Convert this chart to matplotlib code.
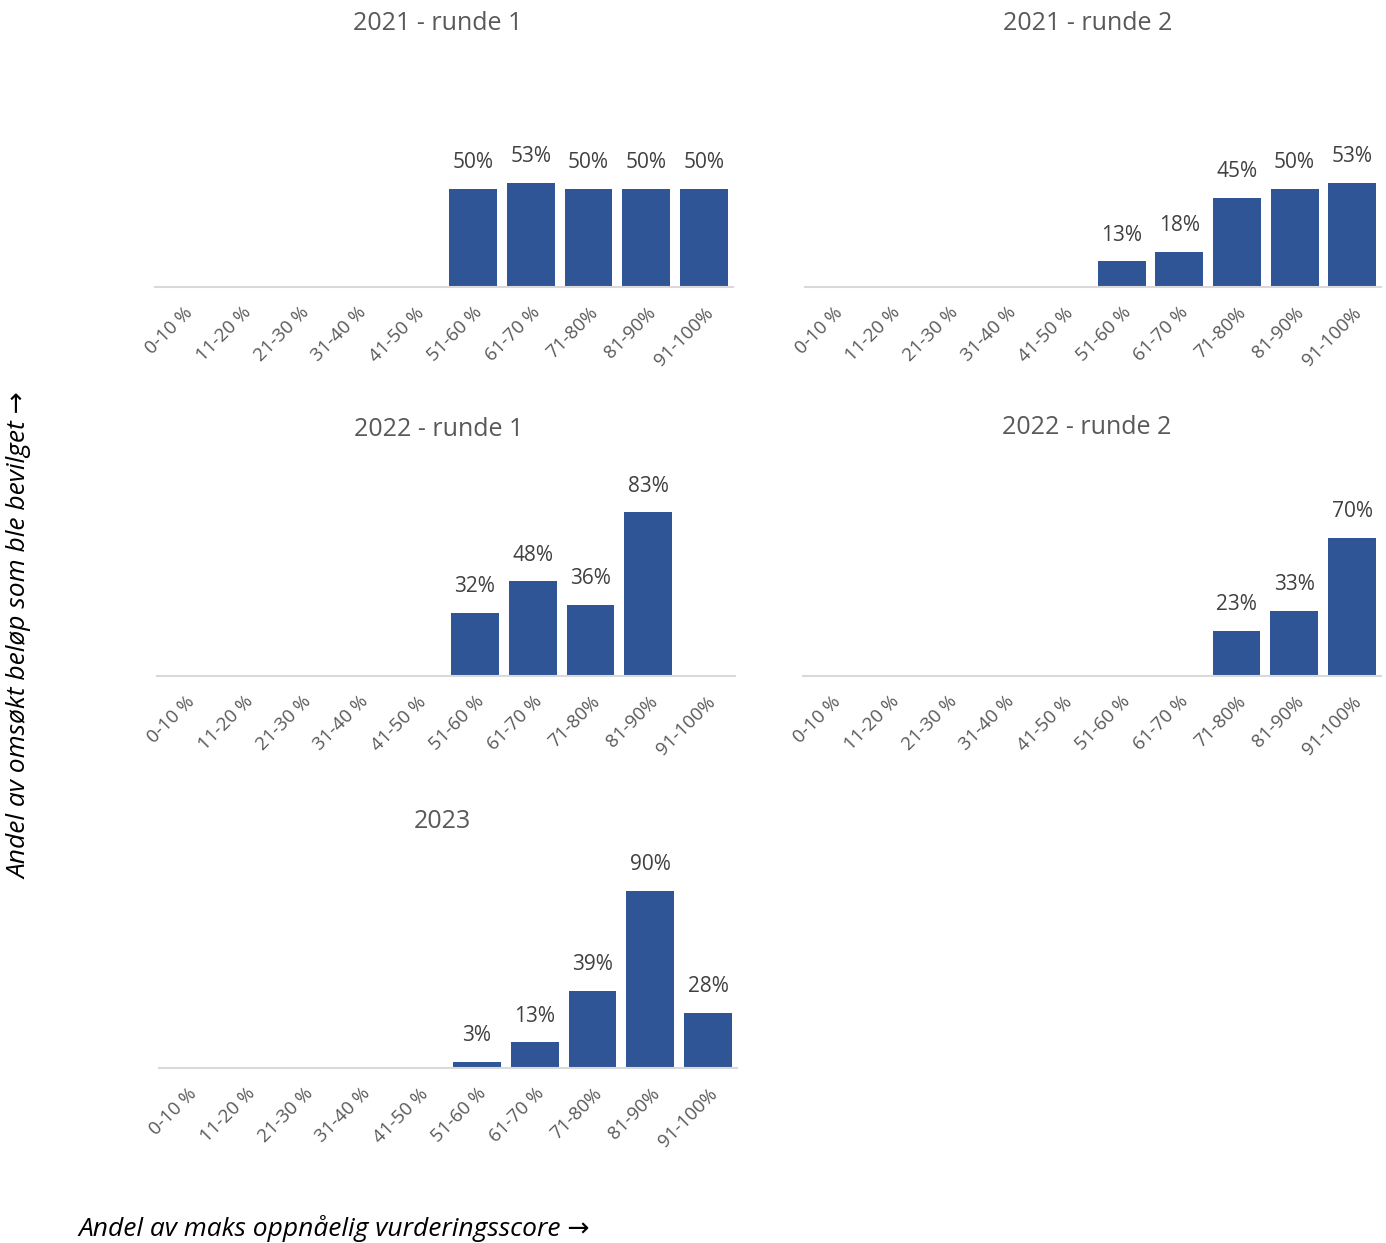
import numpy as np
import matplotlib.pyplot as plt

plt.rcParams['font.family'] = ['Open Sans', 'DejaVu Sans']

# kategorier og verdier (andel bevilget, %)
categories = ['0-10 %', '11-20 %', '21-30 %', '31-40 %', '41-50 %',
              '51-60 %', '61-70 %', '71-80%', '81-90%', '91-100%']
nan = np.nan
r2021_1 = [nan, nan, nan, nan, nan, 50, 53, 50, 50, 50]
r2021_2 = [nan, nan, nan, nan, nan, 13, 18, 45, 50, 53]
r2022_1 = [nan, nan, nan, nan, nan, 32, 48, 36, 83, nan]
r2022_2 = [nan, nan, nan, nan, nan, nan, nan, 23, 33, 70]
r2023 = [nan, nan, nan, nan, nan, 3, 13, 39, 90, 28]

titles = ['2021 - runde 1', '2021 - runde 2', '2022 - runde 1', '2022 - runde 2', '2023']
series = [r2021_1, r2021_2, r2022_1, r2022_2, r2023]

W, H = 1386, 1243
fig = plt.figure(figsize=(W / 100, H / 100), dpi=100)

# plassering i piksler: (venstre, høyre, grunnlinje)
boxes = [(155, 733, 287), (805, 1381, 287), (157, 735, 676),
         (803, 1381, 676), (159, 737, 1068)]
title_pos = [(438, 24), (1088, 24), (439, 429), (1087, 428), (442, 821)]

bar_color = '#2F5597'
px_per_pct = 1.97
ymax = 100

for (x0, x1, base), vals, title, (tx, ty) in zip(boxes, series, titles, title_pos):
    top = base - ymax * px_per_pct
    ax = fig.add_axes([x0 / W, 1 - base / H, (x1 - x0) / W, (base - top) / H])
    x = np.arange(len(categories))
    v = np.array(vals, dtype=float)
    ax.bar(x, np.nan_to_num(v), width=0.83, color=bar_color)
    for xi, vi in zip(x, v):
        if not np.isnan(vi):
            ax.annotate(f'{vi:.0f}%', (xi, vi), xytext=(0, 19), textcoords='offset points',
                        ha='center', va='center', fontsize=15, color='#404040')
    ax.set_xlim(-0.5, 9.5)
    ax.set_ylim(0, ymax)
    ax.set_xticks(x)
    ax.set_xticklabels(categories, rotation=45, ha='right', rotation_mode='anchor',
                       fontsize=13.5, color='#595959')
    ax.tick_params(axis='x', length=0, pad=12)
    ax.set_yticks([])
    for s in ['top', 'right', 'left']:
        ax.spines[s].set_visible(False)
    ax.spines['bottom'].set_color('#D9D9D9')
    ax.spines['bottom'].set_linewidth(1.5)
    ax.patch.set_alpha(0)
    fig.text(tx / W, 1 - ty / H, title, ha='center', va='center', fontsize=18, color='#595959')

fig.text(20 / W, 1 - 636 / H, 'Andel av omsøkt beløp som ble bevilget →', rotation=90,
         ha='center', va='center', fontsize=19, style='italic', color='black')
fig.text(78 / W, 1 - 1228 / H, 'Andel av maks oppnåelig vurderingsscore →',
         ha='left', va='center', fontsize=19, style='italic', color='black')

fig.savefig('out.png', dpi=100)
